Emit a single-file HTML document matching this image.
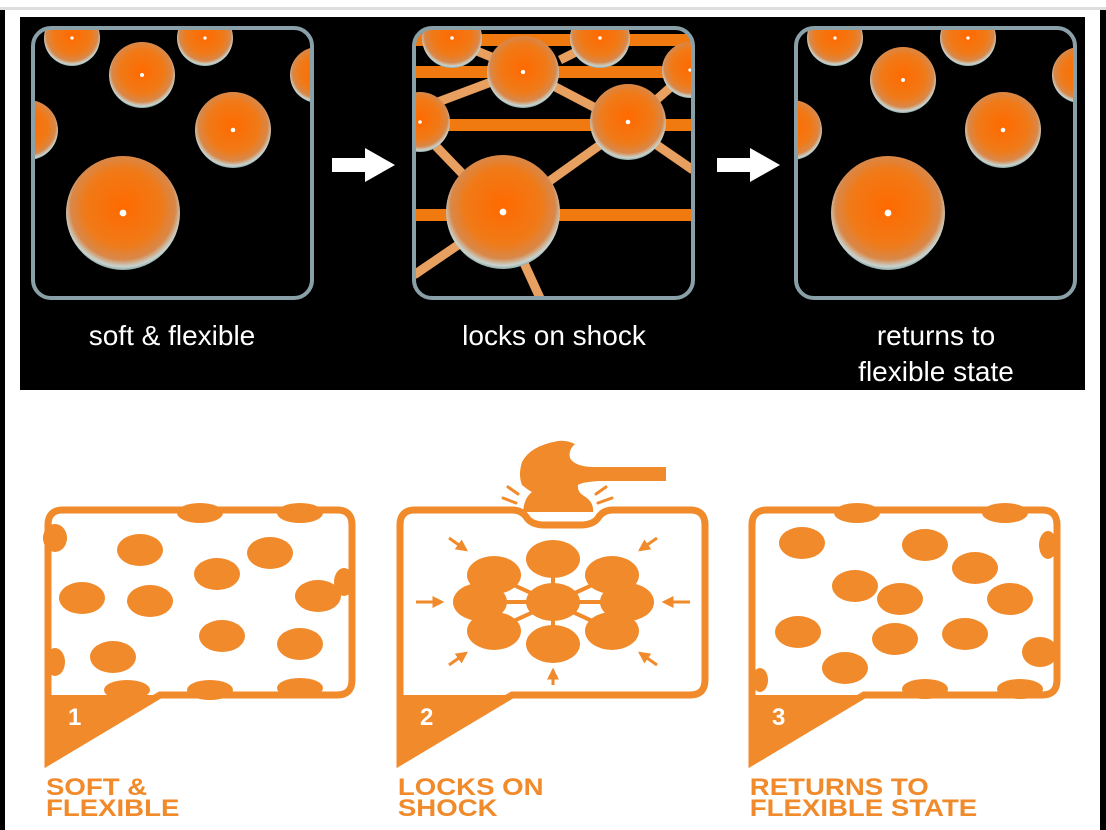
<!DOCTYPE html>
<html><head><meta charset="utf-8"><style>
html,body{margin:0;padding:0;background:#fff;}
svg{display:block}
</style></head><body>
<svg width="1106" height="830" viewBox="0 0 1106 830" xmlns="http://www.w3.org/2000/svg">
<defs>
<radialGradient id="sph" cx="0.5" cy="0.45" r="0.56">
<stop offset="0" stop-color="#ff6a00"/>
<stop offset="0.6" stop-color="#f07a18"/>
<stop offset="0.82" stop-color="#d8884a"/>
<stop offset="0.93" stop-color="#c8d4d0"/>
<stop offset="1" stop-color="#7a9898"/>
</radialGradient>
<marker id="ah" viewBox="0 0 10 10" refX="8" refY="5" markerWidth="4" markerHeight="4" orient="auto"><path d="M0,0 L10,5 L0,10 Z" fill="#f08a2a"/></marker>
<clipPath id="c1"><rect x="33" y="28" width="279" height="270" rx="18"/></clipPath>
<clipPath id="c2"><rect x="414" y="28" width="279" height="270" rx="18"/></clipPath>
<clipPath id="c3"><rect x="796" y="28" width="279" height="270" rx="18"/></clipPath>
<g id="sp"><circle r="1" fill="url(#sph)"/><circle r="0.06" cy="0" fill="#fff"/></g>
</defs>
<rect width="1106" height="830" fill="#fff"/>
<rect x="0" y="7" width="1106" height="3" fill="#ddd"/>
<rect x="0" y="10" width="5" height="820" fill="#000"/>
<rect x="1100" y="10" width="6" height="820" fill="#000"/>
<rect x="20" y="17" width="1065" height="373" fill="#000"/>
<!-- panel 1 -->
<g clip-path="url(#c1)">
<use href="#sp" transform="translate(72,38) scale(28)"/>
<use href="#sp" transform="translate(205,38) scale(28)"/>
<use href="#sp" transform="translate(142,75) scale(33)"/>
<use href="#sp" transform="translate(233,130) scale(38)"/>
<use href="#sp" transform="translate(28,130) scale(30)"/>
<use href="#sp" transform="translate(318,75) scale(28)"/>
<use href="#sp" transform="translate(123,213) scale(57)"/>
</g>
<rect x="33" y="28" width="279" height="270" rx="18" fill="none" stroke="#8aa0a8" stroke-width="4"/>
<!-- panel 2 -->
<g clip-path="url(#c2)">
<g stroke="#f07a10" stroke-width="12" stroke-linecap="round">
<line x1="414" y1="72" x2="693" y2="72"/><line x1="414" y1="125" x2="693" y2="125"/>
<line x1="414" y1="215" x2="693" y2="215"/><line x1="414" y1="40" x2="693" y2="40"/>
</g>
<g stroke="#e8a060" stroke-width="9">
<line x1="502" y1="215" x2="628" y2="125"/><line x1="502" y1="215" x2="414" y2="275"/>
<line x1="502" y1="215" x2="540" y2="298"/><line x1="502" y1="215" x2="430" y2="140"/>
<line x1="523" y1="70" x2="628" y2="125"/><line x1="523" y1="70" x2="430" y2="105"/>
<line x1="628" y1="125" x2="693" y2="170"/><line x1="628" y1="125" x2="690" y2="70"/>
<line x1="450" y1="40" x2="523" y2="70"/><line x1="600" y1="40" x2="560" y2="60"/>
</g>
<use href="#sp" transform="translate(452,38) scale(30)"/>
<use href="#sp" transform="translate(600,38) scale(30)"/>
<use href="#sp" transform="translate(523,72) scale(36)"/>
<use href="#sp" transform="translate(420,122) scale(30)"/>
<use href="#sp" transform="translate(690,70) scale(28)"/>
<use href="#sp" transform="translate(628,122) scale(38)"/>
<use href="#sp" transform="translate(503,212) scale(57)"/>
</g>
<rect x="414" y="28" width="279" height="270" rx="18" fill="none" stroke="#8aa0a8" stroke-width="4"/>
<!-- panel 3 -->
<g clip-path="url(#c3)">
<use href="#sp" transform="translate(835,38) scale(28)"/>
<use href="#sp" transform="translate(968,38) scale(28)"/>
<use href="#sp" transform="translate(903,80) scale(33)"/>
<use href="#sp" transform="translate(1003,130) scale(38)"/>
<use href="#sp" transform="translate(792,130) scale(30)"/>
<use href="#sp" transform="translate(1080,75) scale(28)"/>
<use href="#sp" transform="translate(888,213) scale(57)"/>
</g>
<rect x="796" y="28" width="279" height="270" rx="18" fill="none" stroke="#8aa0a8" stroke-width="4"/>
<!-- arrows -->
<polygon points="332,158 365,158 365,148 395,165 365,182 365,172 332,172" fill="#fff"/>
<polygon points="717,158 750,158 750,148 780,165 750,182 750,172 717,172" fill="#fff"/>
<g font-family="Liberation Sans, sans-serif" font-size="28" fill="#fff" text-anchor="middle">
<text x="172" y="345">soft &amp; flexible</text>
<text x="554" y="345">locks on shock</text>
<text x="936" y="345">returns to</text>
<text x="936" y="381">flexible state</text>
</g>
<!-- bottom -->
<g fill="#f08a2a">
<!-- panel1 -->
<path d="M48,695 V525 Q48,510 63,510 H337 Q352,510 352,525 V680 Q352,695 337,695 H160 L48,762 Z" fill="none" stroke="#f08a2a" stroke-width="7"/>
<path d="M48,695 H160 L48,762 Z"/>
<ellipse cx="200" cy="513" rx="23" ry="10"/><ellipse cx="300" cy="513" rx="23" ry="10"/>
<ellipse cx="55" cy="538" rx="12" ry="14"/><ellipse cx="140" cy="550" rx="23" ry="16"/>
<ellipse cx="270" cy="553" rx="23" ry="16"/><ellipse cx="217" cy="574" rx="23" ry="16"/>
<ellipse cx="82" cy="598" rx="23" ry="16"/><ellipse cx="150" cy="601" rx="23" ry="16"/>
<ellipse cx="318" cy="596" rx="23" ry="16"/><ellipse cx="344" cy="582" rx="10" ry="14"/>
<ellipse cx="222" cy="636" rx="23" ry="16"/><ellipse cx="300" cy="644" rx="23" ry="16"/>
<ellipse cx="113" cy="657" rx="23" ry="16"/><ellipse cx="55" cy="662" rx="10" ry="14"/>
<ellipse cx="127" cy="690" rx="23" ry="10"/><ellipse cx="210" cy="690" rx="23" ry="10"/>
<ellipse cx="300" cy="688" rx="23" ry="10"/>
<!-- panel2 -->
<path d="M400,695 V525 Q400,510 415,510 H512 Q522,510 527,518 Q532,525 545,525 H580 Q593,525 598,518 Q603,510 613,510 H690 Q705,510 705,525 V680 Q705,695 690,695 H512 L400,762 Z" fill="none" stroke="#f08a2a" stroke-width="7"/>
<path d="M400,695 H512 L400,762 Z"/>
<path d="M558,441 Q530,446 522,462 Q518,475 522,485 Q528,490 532,492 Q524,498 523,512 H593 Q594,502 584,496 Q577,492 578,485 Q582,482 600,481 H666 V467 H595 Q575,467 570,458 Q568,450 575,444 Q566,440 558,441 Z"/>
<g stroke="#f08a2a" stroke-width="3" stroke-linecap="round" fill="none">
<line x1="503" y1="498" x2="516" y2="503"/><line x1="508" y1="487" x2="518" y2="494"/>
<line x1="612" y1="498" x2="598" y2="503"/><line x1="606" y1="487" x2="596" y2="494"/>
</g>
<g stroke="#f08a2a" stroke-width="4">
<line x1="553" y1="560" x2="553" y2="643"/><line x1="480" y1="602" x2="627" y2="602"/>
<line x1="494" y1="576" x2="612" y2="630"/><line x1="612" y1="576" x2="494" y2="630"/>
</g>
<ellipse cx="553" cy="602" rx="27" ry="19"/>
<ellipse cx="553" cy="559" rx="27" ry="19"/><ellipse cx="553" cy="644" rx="27" ry="19"/>
<ellipse cx="480" cy="602" rx="27" ry="19"/><ellipse cx="627" cy="602" rx="27" ry="19"/>
<ellipse cx="494" cy="575" rx="27" ry="19"/><ellipse cx="612" cy="575" rx="27" ry="19"/>
<ellipse cx="494" cy="631" rx="27" ry="19"/><ellipse cx="612" cy="631" rx="27" ry="19"/>
<g stroke="#f08a2a" stroke-width="3" marker-end="url(#ah)">
<line x1="449" y1="538" x2="466" y2="550"/><line x1="657" y1="538" x2="640" y2="550"/>
<line x1="416" y1="602" x2="442" y2="602"/><line x1="690" y1="602" x2="664" y2="602"/>
<line x1="449" y1="665" x2="466" y2="653"/><line x1="657" y1="665" x2="640" y2="653"/>
<line x1="553" y1="685" x2="553" y2="670"/>
</g>
<!-- panel3 -->
<path d="M752,695 V525 Q752,510 767,510 H1042 Q1057,510 1057,525 V680 Q1057,695 1042,695 H864 L752,762 Z" fill="none" stroke="#f08a2a" stroke-width="7"/>
<path d="M752,695 H864 L752,762 Z"/>
<ellipse cx="857" cy="513" rx="23" ry="10"/><ellipse cx="1005" cy="513" rx="23" ry="10"/>
<ellipse cx="802" cy="543" rx="23" ry="16"/><ellipse cx="925" cy="545" rx="23" ry="16"/>
<ellipse cx="975" cy="568" rx="23" ry="16"/><ellipse cx="855" cy="586" rx="23" ry="16"/>
<ellipse cx="900" cy="599" rx="23" ry="16"/><ellipse cx="1010" cy="599" rx="23" ry="16"/>
<ellipse cx="1048" cy="545" rx="9" ry="14"/>
<ellipse cx="798" cy="632" rx="23" ry="16"/><ellipse cx="895" cy="639" rx="23" ry="16"/>
<ellipse cx="965" cy="634" rx="23" ry="16"/><ellipse cx="1040" cy="652" rx="18" ry="15"/>
<ellipse cx="845" cy="668" rx="23" ry="16"/><ellipse cx="925" cy="689" rx="23" ry="10"/>
<ellipse cx="1020" cy="689" rx="23" ry="10"/><ellipse cx="760" cy="680" rx="8" ry="12"/>
</g>
<g font-family="Liberation Sans, sans-serif" font-weight="bold" fill="#fff" font-size="24">
<text x="68" y="725">1</text><text x="420" y="725">2</text><text x="772" y="725">3</text>
</g>
<g font-family="Liberation Sans, sans-serif" font-weight="bold" fill="#f08a2a" font-size="24" transform="scale(1.15,1)">
<text x="40" y="795">SOFT &amp;</text><text x="40" y="816">FLEXIBLE</text>
<text x="346" y="795">LOCKS ON</text><text x="346" y="816">SHOCK</text>
<text x="652" y="795">RETURNS TO</text><text x="652" y="816">FLEXIBLE STATE</text>
</g>
</svg>
</body></html>
